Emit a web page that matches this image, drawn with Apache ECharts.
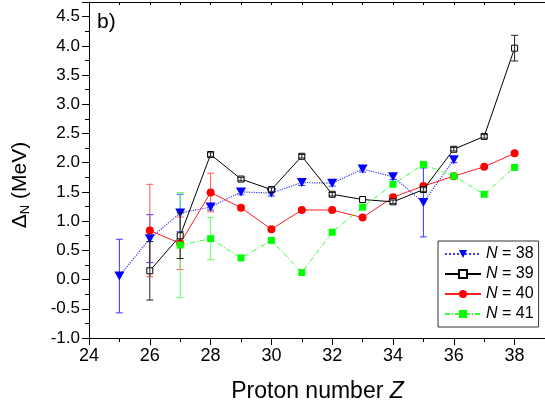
<!DOCTYPE html>
<html>
<head>
<meta charset="utf-8">
<script src="https://cdn.jsdelivr.net/npm/echarts@6/dist/echarts.min.js"></script>
<style>
html,body{margin:0;padding:0;background:#fff;}
#c{width:545px;height:412px;}
</style>
</head>
<body>
<div id="c"></div>
<script>
// ---- data ----
const legendNames = ['N = 38', 'N = 39', 'N = 40', 'N = 41'];

const z38 = [25, 26, 27, 28, 29, 30, 31, 32, 33, 34, 35, 36];
const v38 = [0.06, 0.70, 1.14, 1.24, 1.50, 1.48, 1.66, 1.65, 1.89, 1.76, 1.32, 2.05];
const e38 = [0.63, 0.41, 0.32, 0.05, 0.05, 0.05, 0.05, 0.05, 0.05, 0.05, 0.59, 0.05];

const z39 = [26, 27, 28, 29, 30, 31, 32, 33, 34, 35, 36, 37, 38];
const v39 = [0.15, 0.75, 2.14, 1.72, 1.54, 2.11, 1.46, 1.37, 1.33, 1.54, 2.23, 2.45, 3.96];
const e39 = [0.50, 0.39, 0.03, 0.03, 0.03, 0.03, 0.03, 0.00, 0.03, 0.03, 0.03, 0.03, 0.22];

const z40 = [26, 27, 28, 29, 30, 31, 32, 33, 34, 35, 36, 37, 38];
const v40 = [0.84, 0.62, 1.49, 1.23, 0.86, 1.19, 1.19, 1.06, 1.41, 1.60, 1.77, 1.93, 2.16];
const e40 = [0.79, 0.45, 0.33, 0, 0, 0, 0, 0, 0, 0, 0, 0, 0];

const z41 = [27, 28, 29, 30, 31, 32, 33, 34, 35, 36, 37, 38];
const v41 = [0.59, 0.70, 0.37, 0.67, 0.12, 0.81, 1.24, 1.63, 1.97, 1.77, 1.46, 1.92];
const e41 = [0.90, 0.36, 0, 0, 0, 0, 0, 0, 0, 0, 0, 0];

const xMin = 24, xMax = 39;
const yMin = -1.0, yMax = 4.75;

// ---- helpers ----
function pts(z, v) { return z.map((x, i) => [x, v[i]]); }
function errs(z, v, e) {
  const out = [];
  z.forEach((x, i) => { if (e[i] > 0) out.push([x, v[i] - e[i], v[i] + e[i]]); });
  return out;
}
function errRender(color) {
  return function (params, api) {
    const x = api.value(0), lo = api.value(1), hi = api.value(2);
    const a = api.coord([x, lo]), b = api.coord([x, hi]);
    const w = 3.5;
    const st = { stroke: color, lineWidth: 1 };
    return {
      type: 'group',
      children: [
        { type: 'line', shape: { x1: a[0], y1: a[1], x2: b[0], y2: b[1] }, style: st },
        { type: 'line', shape: { x1: a[0] - w, y1: a[1], x2: a[0] + w, y2: a[1] }, style: st },
        { type: 'line', shape: { x1: b[0] - w, y1: b[1], x2: b[0] + w, y2: b[1] }, style: st }
      ]
    };
  };
}
function errSeries(data, color, z) {
  return {
    type: 'custom', xAxisIndex: 0, yAxisIndex: 0, z: z,
    renderItem: errRender(color), data: data,
    encode: { x: 0, y: [1, 2] }, silent: true, legendHoverLink: false
  };
}

const FONT = 'Liberation Sans, Arial, sans-serif';
const black = '#000';
const gridRect = { left: 89, right: 0, top: 2, bottom: 74 };

const option = {
  backgroundColor: '#fff',
  animation: false,
  grid: [
    Object.assign({ show: false }, gridRect),
    Object.assign({ show: false }, gridRect)
  ],
  xAxis: [
    { // bottom: minor ticks + labels
      type: 'value', gridIndex: 0, position: 'bottom', min: xMin, max: xMax, interval: 1,
      axisLine: { show: true, onZero: false, lineStyle: { color: black, width: 1 } },
      axisTick: { show: true, inside: false, length: 4, lineStyle: { color: black } },
      axisLabel: {
        show: true, margin: 9, fontSize: 18, color: black, fontFamily: FONT,
        showMaxLabel: false,
        formatter: v => (v % 2 === 0 && v < xMax) ? String(v) : ''
      },
      splitLine: { show: false }
    },
    { // top frame
      type: 'value', gridIndex: 0, position: 'top', min: xMin, max: xMax, interval: 1,
      axisLine: { show: true, onZero: false, lineStyle: { color: black, width: 1 } },
      axisTick: { show: true, inside: true, length: 3, lineStyle: { color: black } },
      axisLabel: { show: false }, splitLine: { show: false }
    },
    { // bottom major ticks
      type: 'value', gridIndex: 1, position: 'bottom', min: xMin, max: xMax, interval: 2,
      axisLine: { show: false, onZero: false },
      axisTick: { show: true, inside: false, length: 7, lineStyle: { color: black } },
      axisLabel: { show: false }, splitLine: { show: false }
    }
  ],
  yAxis: [
    { // left: minor ticks + labels
      type: 'value', gridIndex: 0, position: 'left', min: yMin, max: yMax, interval: 0.25,
      axisLine: { show: true, onZero: false, lineStyle: { color: black, width: 1 } },
      axisTick: { show: true, inside: false, length: 4, lineStyle: { color: black } },
      axisLabel: {
        show: true, margin: 9, fontSize: 17, color: black, fontFamily: FONT,
        formatter: v => {
          const k = v * 2;
          return (Math.abs(k - Math.round(k)) < 1e-6 && v < yMax) ? v.toFixed(1) : '';
        }
      },
      splitLine: { show: false }
    },
    { // left major ticks
      type: 'value', gridIndex: 1, position: 'left', min: yMin, max: yMax, interval: 0.5,
      axisLine: { show: false, onZero: false },
      axisTick: { show: true, inside: false, length: 7, lineStyle: { color: black } },
      axisLabel: { show: false }, splitLine: { show: false }
    }
  ],
  legend: {
    data: legendNames,
    orient: 'vertical',
    left: 438, top: 241,
    padding: [5, 5, 5, 6],
    itemGap: 4,
    itemWidth: 36, itemHeight: 10,
    backgroundColor: '#fff',
    borderColor: '#333', borderWidth: 1, borderRadius: 0,
    textStyle: {
      fontSize: 16, color: black, fontFamily: FONT, lineHeight: 16,
      rich: { i: { fontStyle: 'italic', fontSize: 16, fontFamily: FONT, color: black } }
    },
    formatter: name => '{i|N}' + name.slice(1)
  },
  graphic: [
    {
      type: 'text', left: 97, top: 12, z: 100,
      style: { text: 'b)', font: '21px ' + FONT, fill: black }
    },
    {
      type: 'text', x: 317.5, y: 392, z: 100,
      style: {
        text: 'Proton number {i|Z}', font: '23px ' + FONT, fill: black,
        align: 'center', verticalAlign: 'middle',
        rich: { i: { fontStyle: 'italic', fontSize: 23, fontFamily: FONT, fill: black } }
      }
    },
    {
      type: 'text', x: 20, y: 185, rotation: Math.PI / 2, z: 100,
      style: {
        text: '{a|Δ}{s|N}{a| (MeV)}', fill: black,
        align: 'center', verticalAlign: 'middle',
        rich: {
          a: { fontSize: 21, fontFamily: FONT, fill: black, lineHeight: 24, verticalAlign: 'middle' },
          s: { fontSize: 13, fontFamily: FONT, fill: black, lineHeight: 13, verticalAlign: 'bottom' }
        }
      }
    }
  ],
  series: [
    errSeries(errs(z38, v38, e38), '#3a3aff', 2),
    errSeries(errs(z40, v40, e40), '#ff5a5a', 2),
    errSeries(errs(z41, v41, e41), '#66ff66', 2),
    {
      name: legendNames[0], type: 'line', z: 3, data: pts(z38, v38),
      symbol: 'triangle', symbolRotate: 180, symbolSize: [10, 9],
      itemStyle: { color: '#0000ff' },
      lineStyle: { color: '#3b3bff', width: 1.2, type: 'dotted' }
    },
    {
      name: legendNames[2], type: 'line', z: 4, data: pts(z40, v40),
      symbol: 'circle', symbolSize: 8,
      itemStyle: { color: '#ff0000' },
      lineStyle: { color: '#ff2020', width: 1 }
    },
    {
      name: legendNames[1], type: 'line', z: 5, data: pts(z39, v39),
      symbol: 'rect', symbolSize: 6,
      itemStyle: { color: '#fff', borderColor: '#000', borderWidth: 1 },
      lineStyle: { color: '#000', width: 1 }
    },
    errSeries(errs(z39, v39, e39), '#222', 6),
    {
      name: legendNames[3], type: 'line', z: 7, data: pts(z41, v41),
      symbol: 'rect', symbolSize: 7,
      itemStyle: { color: '#00ff00' },
      lineStyle: { color: '#33ff33', width: 1, type: [5, 2, 1, 2] }
    }
  ]
};

const chart = echarts.init(document.getElementById('c'), null, { renderer: 'canvas' });
chart.setOption(option);
</script>
</body>
</html>
